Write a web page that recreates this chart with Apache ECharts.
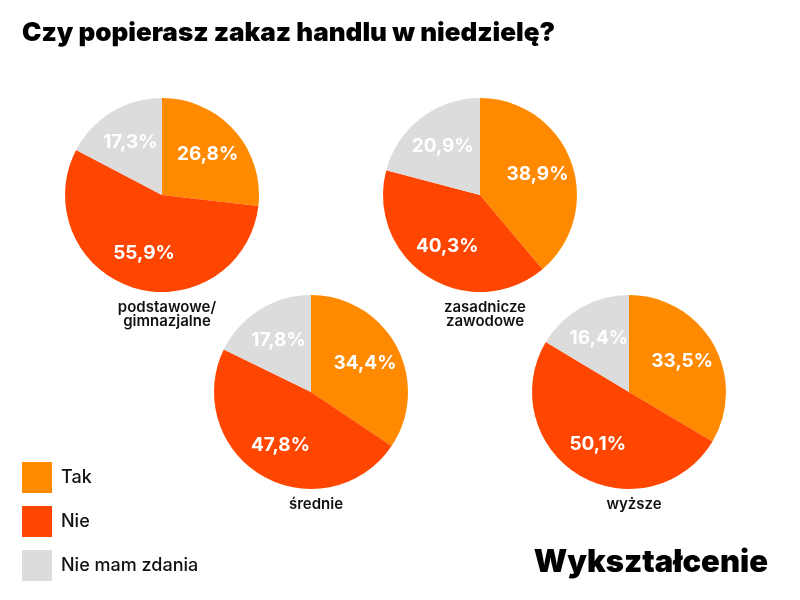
<!DOCTYPE html>
<html>
<head>
<meta charset="utf-8">
<title>Czy popierasz zakaz handlu w niedzielę?</title>
<script src="https://cdn.jsdelivr.net/npm/echarts@6/dist/echarts.min.js"></script>
<style>
  html, body { margin: 0; padding: 0; background: #fff; }
  #chart { width: 800px; height: 600px; }
</style>
</head>
<body>
<div id="chart"></div>
<script>
// --- data ------------------------------------------------------------------
const groups = ["podstawowe/\ngimnazjalne", "zasadnicze\nzawodowe", "średnie", "wyższe"];
const answers = ["Tak", "Nie", "Nie mam zdania"];
const tak = [26.8, 38.9, 34.4, 33.5];
const nie = [55.9, 40.3, 47.8, 50.1];
const brak = [17.3, 20.9, 17.8, 16.4];

// --- look ------------------------------------------------------------------
const COLORS = ["#FF8A00", "#FF4600", "#DCDCDC"];
const FONT = "Inter, 'Open Sans', sans-serif";
const R = 97;
const CENTERS = [[162, 195], [480, 195], [311, 392], [629, 392]];

const pct = (v) => String(v).replace(".", ",") + "%";

const series = [];
const titles = [{
  text: "Czy popierasz zakaz handlu w niedzielę?",
  left: 17, top: 15,
  textStyle: { fontFamily: FONT, fontSize: 26, fontWeight: 900, color: "#000" },
}, {
  text: "Wykształcenie",
  right: 27, top: 542,
  textStyle: { fontFamily: FONT, fontSize: 31, fontWeight: 900, color: "#000" },
}];

groups.forEach((g, i) => {
  const data = [tak[i], nie[i], brak[i]].map((v, k) => ({ name: answers[k], value: v }));
  // coloured slices
  series.push({
    type: "pie", center: CENTERS[i], radius: R, silent: true,
    startAngle: 90, clockwise: true,
    itemStyle: { borderWidth: 0 },
    label: { show: false }, labelLine: { show: false },
    data: data.map((d, k) => ({ ...d, itemStyle: { color: COLORS[k] } })),
  });
  // invisible ring just to push the value labels out to ~0.6 r
  series.push({
    type: "pie", center: CENTERS[i], radius: [R * 0.2, R], silent: true,
    startAngle: 90, clockwise: true,
    itemStyle: { color: "transparent", borderWidth: 0 },
    label: {
      show: true, position: "inside", formatter: (p) => pct(p.value),
      color: "#fff", fontFamily: FONT, fontSize: 19, fontWeight: 700,
    },
    labelLine: { show: false },
    data,
  });
  titles.push({
    text: g,
    left: CENTERS[i][0], top: CENTERS[i][1] + R + 3,
    textAlign: "center",
    textStyle: { fontFamily: FONT, fontSize: 15, fontWeight: 600, color: "#111", lineHeight: 14 },
  });
});

const chart = echarts.init(document.getElementById("chart"), null, { renderer: "canvas" });
chart.setOption({
  animation: false,
  title: titles,
  legend: {
    orient: "vertical", left: 17, top: 457,
    itemWidth: 30, itemHeight: 31, itemGap: 13,
    selectedMode: false,
    textStyle: { fontFamily: FONT, fontSize: 18, fontWeight: 500, color: "#111", padding: [0, 0, 0, 4] },
    data: answers.map((a, k) => ({ name: a, icon: "rect", itemStyle: { color: COLORS[k] } })),
  },
  series,
});
</script>
</body>
</html>
